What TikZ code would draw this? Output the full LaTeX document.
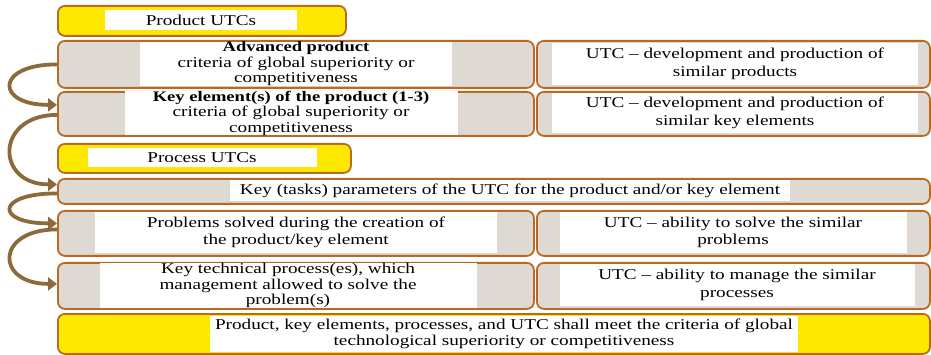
\documentclass[tikz,border=0pt]{standalone}
\usepackage{fontspec}
\setmainfont{Liberation Serif}[FakeStretch=1.28]
\usetikzlibrary{arrows.meta}

\definecolor{utcyellow}{RGB}{255,232,0}
\definecolor{utcgrey}{RGB}{222,217,210}
\definecolor{utcline}{RGB}{184,106,36}
\definecolor{utcarrow}{RGB}{140,106,60}

\begin{document}
\begin{tikzpicture}[x=1pt,y=-1pt,
  box/.style={draw=utcline,line width=1.8pt,rounded corners=7pt,fill=utcgrey,
    anchor=north west,inner sep=0pt},
  hbox/.style={box,fill=utcyellow},
  pane/.style={fill=white,inner sep=0pt,align=center,
    font=\fontsize{15}{15.5}\selectfont},
  flow/.style={draw=utcarrow,line width=3.8pt,-{Triangle[length=9pt,width=13pt]}}]
\useasboundingbox (0,0) rectangle (931,355);

% Product UTCs
\node[hbox,minimum width=288pt,minimum height=30pt] (prod) at (57,5) {};
\node[pane,minimum width=192pt,minimum height=20pt] (prodT) at (201,20) {Product UTCs};

\node[box,minimum width=476pt,minimum height=47pt] (adv) at (57,40) {};
\node[pane,minimum width=312pt,minimum height=42pt] (advT) at (296,64)
  {{\fontsize{14.5}{15.5}\selectfont\textbf{Advanced product}}\\criteria of global superiority or\\competitiveness};
\node[box,minimum width=393pt,minimum height=47pt] (advU) at (536,40) {};
\node[pane,minimum width=366pt,minimum height=42pt] (advUT) at (735,64)
  {UTC -- development and production of\\[2pt]similar products};

\node[box,minimum width=476pt,minimum height=44pt] (key) at (57,91) {};
\node[pane,minimum width=333pt,minimum height=40pt] (keyT) at (291,113)
  {{\fontsize{14.5}{15.5}\selectfont\textbf{Key element(s) of the product (1-3)}}\\criteria of global superiority or\\competitiveness};
\node[box,minimum width=393pt,minimum height=44pt] (keyU) at (536,91) {};
\node[pane,minimum width=366pt,minimum height=40pt] (keyUT) at (735,113)
  {UTC -- development and production of\\[2pt]similar key elements};

% Process UTCs
\node[hbox,minimum width=293pt,minimum height=29pt] (proc) at (57,143) {};
\node[pane,minimum width=229pt,minimum height=19pt] (procT) at (202,157.5) {Process UTCs};

\node[box,minimum width=872pt,minimum height=25pt] (task) at (57,178) {};
\node[pane,minimum width=560pt,minimum height=21pt] (taskT) at (510,190.5)
  {Key (tasks) parameters of the UTC for the product and/or key element};

\node[box,minimum width=476pt,minimum height=45pt] (prob) at (57,210) {};
\node[pane,minimum width=402pt,minimum height=41pt] (probT) at (296,232.5)
  {Problems solved during the creation of\\[1pt]the product/key element};
\node[box,minimum width=393pt,minimum height=45pt] (probU) at (536,210) {};
\node[pane,minimum width=347pt,minimum height=41pt] (probUT) at (733,232.5)
  {UTC -- ability to solve the similar\\[2pt]problems};

\node[box,minimum width=476pt,minimum height=46pt] (tech) at (57,262) {};
\node[pane,minimum width=377pt,minimum height=42pt] (techT) at (288,285.5)
  {Key technical process(es), which\\management allowed to solve the\\problem(s)};
\node[box,minimum width=393pt,minimum height=46pt] (techU) at (536,262) {};
\node[pane,minimum width=355pt,minimum height=42pt] (techUT) at (737,285)
  {UTC -- ability to manage the similar\\[2pt]processes};

% closing statement
\node[hbox,minimum width=872pt,minimum height=40pt] (goal) at (57,313) {};
\node[pane,minimum width=588pt,minimum height=36pt] (goalT) at (504,334)
  {Product, key elements, processes, and UTC shall meet the criteria of global\\technological superiority or competitiveness};

% curved arrows down the left side
\draw[flow] (adv.west) .. controls +(-62,0) and +(-62,0) .. ([yshift=9pt]key.west);
\draw[flow] ([yshift=-1pt]key.west) .. controls +(-62,0) and +(-62,0) .. ([yshift=7pt]task.west);
\draw[flow] ([yshift=-2pt]task.west) .. controls +(-62,0) and +(-62,0) .. ([yshift=10pt]prob.west);
\draw[flow] ([yshift=4pt]prob.west) .. controls +(-62,0) and +(-62,0) .. ([yshift=2pt]tech.west);
\end{tikzpicture}
\end{document}
